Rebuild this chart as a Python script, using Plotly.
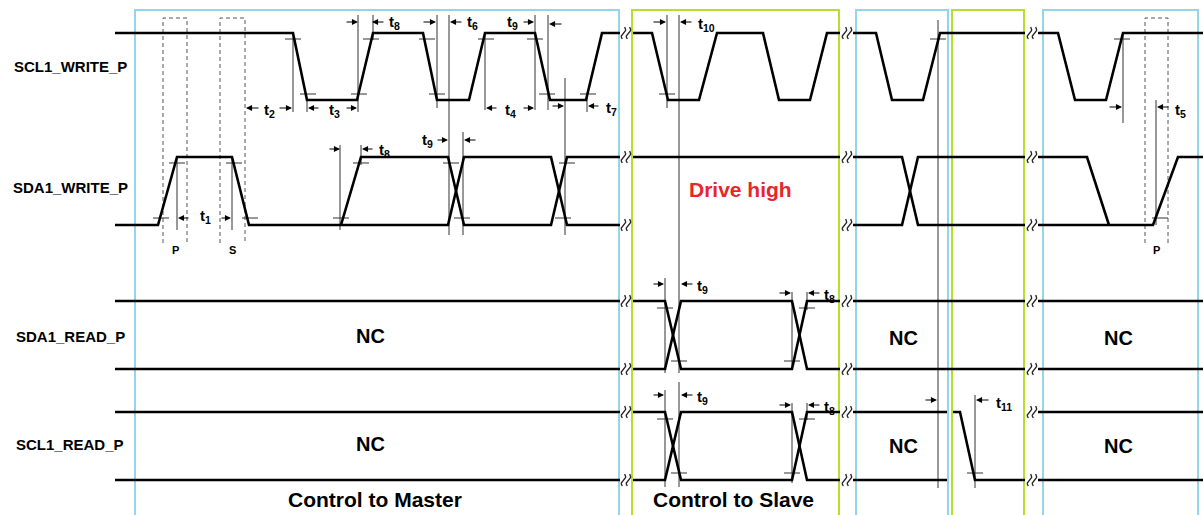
import math
import plotly.graph_objects as go

W, H = 1203, 515

# signal levels (high, low) per row
levels = {
    "SCL1_WRITE_P": (33, 100),
    "SDA1_WRITE_P": (157, 225),
    "SDA1_READ_P": (301, 369),
    "SCL1_READ_P": (412, 480),
}
row_label_y = {"SCL1_WRITE_P": 66, "SDA1_WRITE_P": 187, "SDA1_READ_P": 336, "SCL1_READ_P": 444}

# waveform segments: (x list, state list) 1=high, 0=low
scl_write = [
    ([115, 293, 307, 357, 373, 423, 437, 469, 485, 535, 550, 586, 602, 620], [1, 1, 0, 0, 1, 1, 0, 0, 1, 1, 0, 0, 1, 1]),
    ([633, 652, 668, 699, 717, 763, 779, 810, 827, 840], [1, 1, 0, 0, 1, 1, 0, 0, 1, 1]),
    ([853, 876, 892, 923, 940, 1025], [1, 1, 0, 0, 1, 1]),
    ([1038, 1058, 1075, 1106, 1123, 1203], [1, 1, 0, 0, 1, 1]),
]
sda_write = [
    ([115, 158, 177, 232, 249, 448, 464, 551, 567, 620], [0, 0, 1, 1, 0, 0, 1, 1, 0, 0]),
    ([341, 361, 448, 464, 551, 567, 620], [0, 1, 1, 0, 0, 1, 1]),
    ([633, 840], [1, 1]),
    ([853, 902, 918, 1025], [1, 1, 0, 0]),
    ([853, 902, 918, 1025], [0, 0, 1, 1]),
    ([1038, 1087, 1109], [1, 1, 0]),
    ([1038, 1153, 1178, 1203], [0, 0, 1, 1]),
]
sda_read = [
    ([115, 620], [1, 1]), ([115, 620], [0, 0]),
    ([633, 665, 681, 792, 807, 840], [1, 1, 0, 0, 1, 1]),
    ([633, 665, 681, 792, 807, 840], [0, 0, 1, 1, 0, 0]),
    ([853, 1025], [1, 1]), ([853, 1025], [0, 0]),
    ([1038, 1203], [1, 1]), ([1038, 1203], [0, 0]),
]
scl_read = [
    ([115, 620], [1, 1]), ([115, 620], [0, 0]),
    ([633, 665, 681, 792, 807, 840], [1, 1, 0, 0, 1, 1]),
    ([633, 665, 681, 792, 807, 840], [0, 0, 1, 1, 0, 0]),
    ([853, 947], [1, 1]), ([853, 947], [0, 0]),
    ([953, 960, 975, 1025], [1, 1, 0, 0]),
    ([1038, 1203], [1, 1]), ([1038, 1203], [0, 0]),
]
waves = {"SCL1_WRITE_P": scl_write, "SDA1_WRITE_P": sda_write,
         "SDA1_READ_P": sda_read, "SCL1_READ_P": scl_read}

# region boxes (x0, x1, kind)
regions = [(135, 619, "blue"), (632, 839, "green"), (856, 948, "blue"),
           (952, 1024, "green"), (1043, 1198, "blue")]
region_top = 10

# thin timing guide lines (x, y0, y1)
guides = [
    (293, 33, 112), (307, 100, 112), (358, 15, 112), (373, 15, 40),
    (437, 15, 108), (449, 15, 235), (485, 33, 110), (535, 15, 110),
    (548, 15, 110), (565, 78, 235), (587, 95, 112),
    (340, 145, 230), (361, 145, 165), (463, 132, 235),
    (177, 157, 230), (232, 157, 230),
    (667, 15, 108), (679, 15, 373), (665, 278, 373), (792, 292, 370), (807, 292, 310),
    (665, 390, 487), (679, 382, 487), (792, 403, 483), (807, 403, 420),
    (938, 20, 488), (975, 395, 488), (1123, 33, 123), (1156, 100, 225),
]
# threshold tick marks (center x, y)
ticks = [
    (293, 39), (308, 94), (359, 94), (371, 39), (427, 39), (437, 94), (486, 39), (535, 39),
    (547, 94), (588, 94),
    (161, 218), (177, 163), (234, 163), (250, 218), (341, 218), (361, 163), (451, 163),
    (462, 218), (567, 163), (563, 218),
    (667, 94), (938, 39), (1122, 39), (1160, 218),
    (665, 308), (679, 361), (792, 361), (807, 308),
    (665, 419), (679, 473), (792, 473), (807, 419), (975, 473),
]
# dashed P / S windows (x0, x1, label)
windows = [(163, 187, "P"), (220, 245, "S"), (1145, 1168, "P")]
window_y = (18, 243)

# arrows (head x, tail x, y)
arrows = [
    (246, 260, 108), (292, 278, 108),
    (308, 320, 108), (357, 345, 108),
    (358, 345, 22), (372, 385, 22),
    (436, 422, 22), (450, 463, 22),
    (534, 522, 22), (549, 563, 24),
    (486, 498, 108), (534, 522, 108),
    (564, 551, 106), (588, 600, 106),
    (178, 190, 218), (231, 220, 218),
    (340, 328, 149), (362, 374, 149),
    (448, 436, 140), (464, 477, 140),
    (666, 652, 22), (680, 693, 22),
    (664, 652, 284), (681, 694, 284),
    (791, 778, 293), (808, 821, 293),
    (664, 652, 395), (681, 694, 395),
    (791, 778, 405), (808, 821, 405),
    (937, 924, 400), (976, 990, 400),
    (1122, 1108, 107), (1157, 1170, 107),
]
# timing labels (text, x, y)
t_labels = [
    ("t<sub>2</sub>", 269, 110), ("t<sub>3</sub>", 334, 110), ("t<sub>8</sub>", 394, 22),
    ("t<sub>6</sub>", 472, 22), ("t<sub>9</sub>", 512, 22), ("t<sub>4</sub>", 510, 110),
    ("t<sub>7</sub>", 611, 108), ("t<sub>1</sub>", 205, 216), ("t<sub>8</sub>", 384, 150),
    ("t<sub>9</sub>", 427, 140), ("t<sub>10</sub>", 706, 24), ("t<sub>9</sub>", 702, 286),
    ("t<sub>8</sub>", 829, 295), ("t<sub>9</sub>", 702, 397), ("t<sub>8</sub>", 829, 407),
    ("t<sub>11</sub>", 1004, 403), ("t<sub>5</sub>", 1180, 110),
]
# break marks x positions
breaks_x = [626, 847, 1032]
nc_labels = [(370, 336), (370, 444), (903, 338), (903, 446), (1118, 338), (1118, 446)]
region_titles = [("Control to Master", 375, 499), ("Control to Slave", 733, 499)]

fig = go.Figure()
BLUE, GREEN = "#93d6e8", "#b4df2e"

# region boxes
for x0, x1, kind in regions:
    fig.add_trace(go.Scatter(x=[x0, x0, x1, x1], y=[H, region_top, region_top, H], mode="lines",
                             line=dict(color=BLUE if kind == "blue" else GREEN, width=2),
                             hoverinfo="skip", showlegend=False))

# dashed windows
for x0, x1, lab in windows:
    fig.add_trace(go.Scatter(x=[x0, x0, x1, x1], y=[window_y[1], window_y[0], window_y[0], window_y[1]],
                             mode="lines", line=dict(color="#555", width=1, dash="4px,3px"),
                             hoverinfo="skip", showlegend=False))

# guides
gx, gy = [], []
for x, y0, y1 in guides:
    gx += [x, x, None]; gy += [y0, y1, None]
for x, y in ticks:
    gx += [x - 8, x + 8, None]; gy += [y, y, None]
fig.add_trace(go.Scatter(x=gx, y=gy, mode="lines", line=dict(color="#333", width=1),
                         hoverinfo="skip", showlegend=False))

# waveforms
for name, segs in waves.items():
    hi, lo = levels[name]
    xs, ys = [], []
    for sx, st in segs:
        xs += list(sx) + [None]
        ys += [hi if s else lo for s in st] + [None]
    fig.add_trace(go.Scatter(x=xs, y=ys, mode="lines", line=dict(color="black", width=2.6),
                             hoverinfo="skip", showlegend=False))

# break squiggles (two small wavy strokes per line end)
bxs, bys = [], []
for bx in breaks_x:
    for name, (hi, lo) in levels.items():
        for yy in (hi, lo):
            if name == "SCL1_WRITE_P" and yy == lo:
                continue
            for dx in (-2.5, 2.5):
                for k in range(13):
                    u = k / 12.0
                    bys.append(yy - 6 + 12 * u)
                    bxs.append(bx + dx + 1.2 - 2.4 * u + 1.6 * math.sin(2 * math.pi * u))
                bxs.append(None); bys.append(None)
fig.add_trace(go.Scatter(x=bxs, y=bys, mode="lines", line=dict(color="#222", width=1.3),
                         hoverinfo="skip", showlegend=False))

ann = []
FONT = "Liberation Sans, Arial, sans-serif"
for name, yl in row_label_y.items():
    ann.append(dict(x=70, y=yl, text=name, showarrow=False,
                    font=dict(family=FONT, size=15, color="black", weight="bold")))
for hx, tx, y in arrows:
    ann.append(dict(x=hx, y=y, ax=tx, ay=y, axref="x", ayref="y", xref="x", yref="y",
                    text="", showarrow=True, arrowhead=2, arrowsize=1.1, arrowwidth=1.1,
                    arrowcolor="black", standoff=0, startstandoff=0))
for t, x, y in t_labels:
    ann.append(dict(x=x, y=y, text=t, showarrow=False,
                    font=dict(family=FONT, size=15, color="black", weight="bold")))
for x0, x1, lab in windows:
    ann.append(dict(x=(x0 + x1) / 2, y=250, text=lab, showarrow=False,
                    font=dict(family=FONT, size=11, color="black", weight="bold")))
for x, y in nc_labels:
    ann.append(dict(x=x, y=y, text="NC", showarrow=False,
                    font=dict(family=FONT, size=20, color="black", weight="bold")))
for t, x, y in region_titles:
    ann.append(dict(x=x, y=y, text=t, showarrow=False,
                    font=dict(family=FONT, size=21, color="black", weight="bold")))
ann.append(dict(x=740, y=189, text="Drive high", showarrow=False,
                font=dict(family=FONT, size=21, color="#e8262a", weight="bold")))

fig.update_layout(
    width=W, height=H, margin=dict(l=0, r=0, t=0, b=0),
    paper_bgcolor="white", plot_bgcolor="white",
    xaxis=dict(range=[0, W], visible=False, fixedrange=True),
    yaxis=dict(range=[H, 0], visible=False, fixedrange=True),
    annotations=ann, showlegend=False,
)
fig.write_html("out.html", config={"displayModeBar": False},
               post_script="document.body.style.margin='0';document.body.style.overflow='hidden';")
